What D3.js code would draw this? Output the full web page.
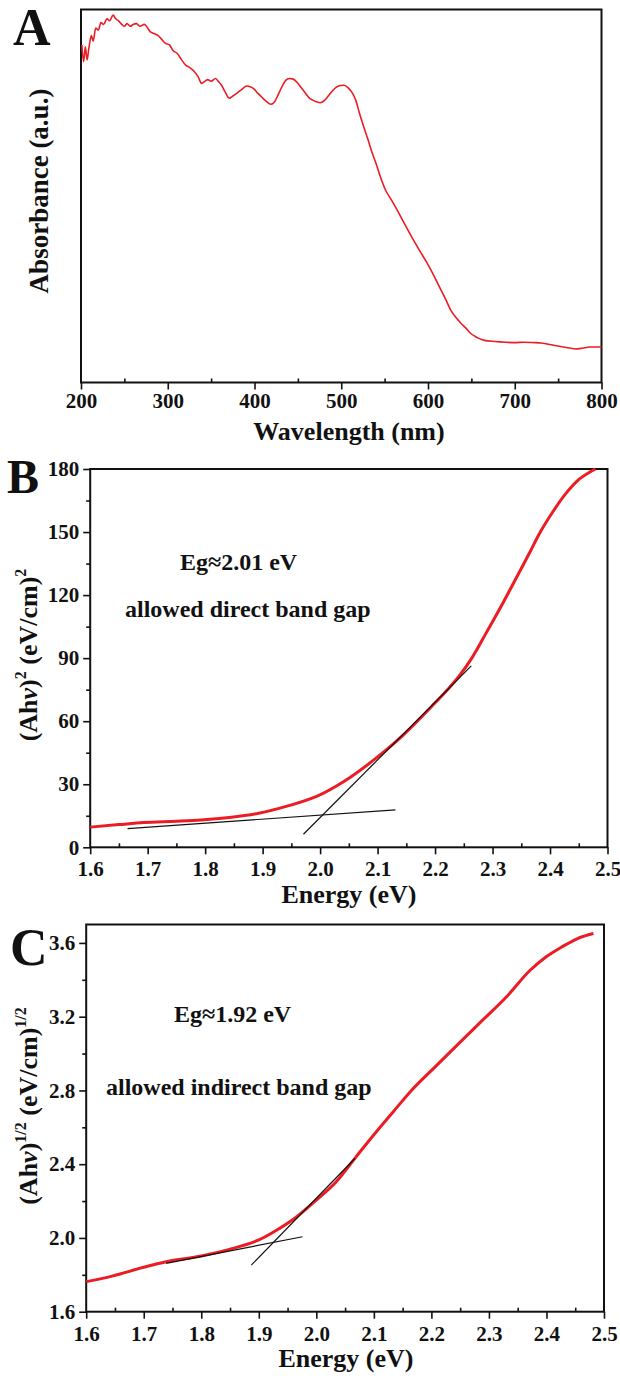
<!DOCTYPE html>
<html><head><meta charset="utf-8">
<script src="https://cdn.jsdelivr.net/npm/d3@7"></script>
<style>
body{margin:0;background:#fff}
svg{display:block}
text{font-family:"Liberation Serif","Times New Roman",serif;font-weight:bold;fill:#111}
</style>
</head><body>
<svg id="c" width="620" height="1380"></svg>
<script>
// ---------- Panel A data : UV-vis absorbance ----------
const waveA = [201,203,205,207,209,212,214,217,220,223,226,230,233,237,240,243,247,250,253,257,260,264,268,273,277,280,285,289,293,297,302,306,311,316,321,325,330,335,339,343,346,350,355,358,362,366,371,375,380,385,391,395,399,404,408,413,419,423,427,431,436,440,444,449,453,459,463,467,471,476,481,485,490,494,499,503,508,512,517,521,526,531,535,540,545,551,558,565,573,581,590,599,606,613,620,626,632,638,644,649,654,658,665,677,690,700,710,722,730,736,745,754,762,770,778,786,793,800];
const absA = [0.905,0.86,0.9,0.865,0.895,0.93,0.915,0.95,0.945,0.965,0.96,0.975,0.97,0.985,0.975,0.97,0.96,0.955,0.962,0.955,0.96,0.962,0.955,0.96,0.95,0.94,0.935,0.93,0.92,0.91,0.905,0.89,0.882,0.865,0.85,0.845,0.835,0.82,0.802,0.808,0.812,0.808,0.815,0.808,0.797,0.78,0.762,0.768,0.776,0.785,0.795,0.793,0.788,0.775,0.766,0.755,0.746,0.752,0.77,0.79,0.81,0.815,0.814,0.805,0.793,0.775,0.763,0.757,0.753,0.75,0.757,0.768,0.782,0.791,0.796,0.797,0.79,0.779,0.755,0.722,0.685,0.65,0.62,0.588,0.552,0.516,0.489,0.46,0.425,0.391,0.355,0.32,0.29,0.257,0.225,0.195,0.175,0.159,0.145,0.132,0.124,0.119,0.113,0.11,0.108,0.107,0.108,0.107,0.106,0.104,0.1,0.096,0.093,0.09,0.092,0.095,0.095,0.096];
const ticksA = [200,300,400,500,600,700,800];
const minorA = [250,350,450,550,650,750];

// ---------- Panel B data : (Ahv)^2 ----------
const energyB = [1.6,1.65,1.693,1.75,1.793,1.842,1.893,1.944,1.994,2.042,2.094,2.145,2.194,2.22,2.242,2.265,2.29,2.3176,2.338,2.366,2.38,2.407,2.428,2.448,2.469,2.479];
const valB = [9.6,10.8,11.8,12.4,13.0,14.2,16.2,19.7,24.2,31.4,41.7,53.5,67,74.5,81.5,90.5,102.5,116,126.5,141,148.5,160.5,168.5,174.5,178.5,180];
const fitB1E = [1.665,2.131], fitB1V = [8.9,17.8];
const fitB2E = [1.971,2.263], fitB2V = [6.2,86.3];
const ticksBx = [1.6,1.7,1.8,1.9,2.0,2.1,2.2,2.3,2.4,2.5];
const minorBx = [1.65,1.75,1.85,1.95,2.05,2.15,2.25,2.35,2.45];
const ticksBy = [0,30,60,90,120,150,180];
const minorBy = [15,45,75,105,135,165];

// ---------- Panel C data : (Ahv)^1/2 ----------
const energyC = [1.6,1.645,1.6998,1.739,1.8,1.849,1.9,1.9315,1.966,2.0,2.0346,2.069,2.1,2.1378,2.1653,2.2065,2.2478,2.289,2.3302,2.3716,2.399,2.4265,2.454,2.4816];
const valC = [1.763,1.793,1.841,1.871,1.902,1.938,1.989,2.043,2.115,2.205,2.305,2.44,2.56,2.70,2.80,2.928,3.055,3.181,3.307,3.452,3.524,3.578,3.624,3.651];
const fitC1E = [1.739,1.976], fitC1V = [1.862,2.0065];
const fitC2E = [1.887,2.067], fitC2V = [1.853,2.431];
const ticksCx = [1.6,1.7,1.8,1.9,2.0,2.1,2.2,2.3,2.4,2.5];
const minorCx = [1.65,1.75,1.85,1.95,2.05,2.15,2.25,2.35,2.45];
const ticksCy = [1.6,2.0,2.4,2.8,3.2,3.6];
const minorCy = [1.8,2.2,2.6,3.0,3.4];

const svg = d3.select("#c");
const FONT = '"Liberation Serif","Times New Roman",serif';
const RED = "#ec1c24";

function panel(cfg){
  const x = d3.scaleLinear().domain(cfg.xDomain).range([cfg.left, cfg.right]);
  const y = d3.scaleLinear().domain(cfg.yDomain).range([cfg.bottom, cfg.top]);
  const g = svg.append("g");
  const styleAxis = a => {
    a.attr("font-family", FONT).attr("font-size", cfg.tickFont).attr("font-weight","bold");
    a.select(".domain").remove();
    a.selectAll("line").attr("stroke","#111").attr("stroke-width",1.6);
    a.selectAll("text").attr("fill","#111");
  };
  g.append("g").attr("transform",`translate(0,${cfg.bottom})`)
    .call(d3.axisBottom(x).tickValues(cfg.xTicks).tickSize(7).tickPadding(cfg.xPad).tickFormat(cfg.xFmt))
    .call(styleAxis);
  g.append("g").attr("transform",`translate(0,${cfg.bottom})`)
    .call(d3.axisBottom(x).tickValues(cfg.xMinor).tickSize(-4).tickFormat(""))
    .call(styleAxis);
  if (cfg.yTicks){
    g.append("g").attr("transform",`translate(${cfg.left},0)`)
      .call(d3.axisLeft(y).tickValues(cfg.yTicks).tickSize(7).tickPadding(4).tickFormat(cfg.yFmt))
      .call(styleAxis);
    g.append("g").attr("transform",`translate(${cfg.left},0)`)
      .call(d3.axisLeft(y).tickValues(cfg.yMinor).tickSize(4).tickFormat(""))
      .call(styleAxis);
  }
  g.append("rect").attr("x",cfg.left).attr("y",cfg.top)
    .attr("width",cfg.right-cfg.left).attr("height",cfg.bottom-cfg.top)
    .attr("fill","none").attr("stroke","#111").attr("stroke-width",2);
  g.append("path").datum(d3.zip(cfg.xs,cfg.ys))
    .attr("d", d3.line().x(d=>x(d[0])).y(d=>y(d[1])).curve(d3.curveMonotoneX))
    .attr("fill","none").attr("stroke",RED).attr("stroke-width",cfg.lineW)
    .attr("stroke-linejoin","round");
  (cfg.fits||[]).forEach(f=>{
    g.append("path").datum(d3.zip(f[0],f[1]))
      .attr("d", d3.line().x(d=>x(d[0])).y(d=>y(d[1])))
      .attr("stroke","#111").attr("stroke-width",1.2).attr("fill","none");
  });
  g.append("text").attr("x",cfg.letterX).attr("y",cfg.letterY)
    .attr("font-size",cfg.letterSize).text(cfg.letter);
  g.append("text").attr("x",cfg.xTitleX).attr("y",cfg.xTitleY)
    .attr("text-anchor","middle").attr("font-size",26).text(cfg.xTitle);
  const yt = g.append("text")
    .attr("transform",`translate(${cfg.yTitleX},${cfg.yTitleY}) rotate(-90)`)
    .attr("text-anchor","middle").attr("font-size",cfg.yTitleSize);
  cfg.yTitle(yt);
  (cfg.notes||[]).forEach(n=>{
    g.append("text").attr("x",n.x).attr("y",n.y).attr("font-size",n.size).text(n.t);
  });
  return {x,y};
}

panel({
  left:81, right:601.5, top:9.5, bottom:382.5,
  xDomain:[200,800], yDomain:[0,1],
  xTicks:ticksA, xMinor:minorA, xFmt:d3.format("d"), tickFont:21, xPad:4,
  xs:waveA, ys:absA, lineW:1.6,
  letter:"A", letterX:13, letterY:45, letterSize:52,
  xTitle:"Wavelength (nm)", xTitleX:349, xTitleY:440,
  yTitleX:48, yTitleY:191, yTitleSize:27,
  yTitle: t => t.text("Absorbance (a.u.)")
});

function ahvTitle(t, sup){
  t.append("tspan").text("(Ah");
  t.append("tspan").attr("font-style","italic").text("ν");
  t.append("tspan").text(")");
  t.append("tspan").attr("font-size",16).attr("dy",-11).text(sup);
  t.append("tspan").attr("dy",11).text(" (eV/cm)");
  t.append("tspan").attr("font-size",16).attr("dy",-11).text(sup);
}

panel({
  left:90.2, right:607.5, top:469, bottom:847.3,
  xDomain:[1.6,2.5], yDomain:[0,180],
  xTicks:ticksBx, xMinor:minorBx, xFmt:d3.format(".1f"), xPad:7,
  yTicks:ticksBy, yMinor:minorBy, yFmt:d3.format("d"), tickFont:21,
  xs:energyB, ys:valB, lineW:3,
  fits:[[fitB1E,fitB1V],[fitB2E,fitB2V]],
  letter:"B", letterX:7, letterY:493, letterSize:48,
  xTitle:"Energy (eV)", xTitleX:349, xTitleY:903,
  yTitleX:37, yTitleY:655, yTitleSize:26,
  yTitle: t => ahvTitle(t,"2"),
  notes:[
    {t:"Eg≈2.01 eV", x:180, y:570, size:24},
    {t:"allowed direct band gap", x:125, y:617, size:24}
  ]
});

panel({
  left:86.2, right:604, top:924.5, bottom:1311.7,
  xDomain:[1.6,2.5], yDomain:[1.6,3.7],
  xTicks:ticksCx, xMinor:minorCx, xFmt:d3.format(".1f"), xPad:7,
  yTicks:ticksCy, yMinor:minorCy, yFmt:d3.format(".1f"), tickFont:21,
  xs:energyC, ys:valC, lineW:3,
  fits:[[fitC1E,fitC1V],[fitC2E,fitC2V]],
  letter:"C", letterX:10, letterY:965, letterSize:52,
  xTitle:"Energy (eV)", xTitleX:346, xTitleY:1367,
  yTitleX:37, yTitleY:1106, yTitleSize:26,
  yTitle: t => ahvTitle(t,"1/2"),
  notes:[
    {t:"Eg≈1.92 eV", x:174, y:1022, size:24},
    {t:"allowed indirect band gap", x:106, y:1095, size:24}
  ]
});
</script>
</body></html>
